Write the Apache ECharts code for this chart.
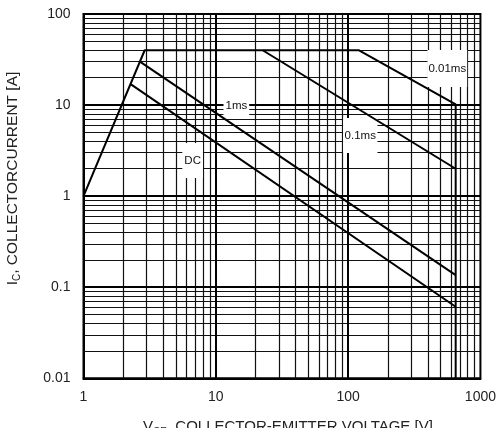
<!DOCTYPE html>
<html>
<head>
<meta charset="utf-8">
<script src="https://cdn.jsdelivr.net/npm/echarts@6/dist/echarts.min.js"></script>
<style>
  html, body { margin: 0; padding: 0; background: #fff; }
  #chart { width: 499px; height: 428px; }
</style>
</head>
<body>
<div id="chart"></div>
<script>
// Safe operating area: collector current vs collector-emitter voltage, log-log scales
const xTickLabels = ['1', '10', '100', '1000'];
const yTickLabels = ['0.01', '0.1', '1', '10', '100'];

// Limit curves as [V_CE (V), I_C (A)]
const curve001ms = [[1, 1], [2.9, 40], [120, 40], [650, 10.2], [650, 0.01]];
const curve01ms = [[22.6, 40], [650, 2.0]];
const curve1ms = [[2.67, 30], [650, 0.136]];
const curveDC = [[2.27, 17], [650, 0.061]];

// Curve captions and where they sit
const captionNames = ['0.01ms', '0.1ms', '1ms', 'DC'];
const captionPos = [[562, 25.2], [123.5, 4.63], [14.3, 9.77], [6.68, 2.46]];
const captionPad = [[12, 1], [11, 1.5], [2.5, 2], [11, 2]];

// Log grid: decade lines and 2..9 subdivisions
const xDecades = [1, 10, 100, 1000];
const yDecades = [0.01, 0.1, 1, 10, 100];
const subSteps = [2, 3, 4, 5, 6, 7, 8, 9];

function minorValues(decades) {
  const out = [];
  for (let i = 0; i < decades.length - 1; i++) {
    subSteps.forEach(k => out.push(+(decades[i] * k).toPrecision(6)));
  }
  return out;
}

const xMinor = minorValues(xDecades);
const yMinor = minorValues(yDecades);

const chart = echarts.init(document.getElementById('chart'), null, { renderer: 'canvas' });

const font = '"Liberation Sans", Arial, sans-serif';

function gridSeries(xs, ys, width, color) {
  return {
    type: 'line',
    data: [],
    silent: true,
    z: 1,
    animation: false,
    markLine: {
      z: 1,
      silent: true,
      animation: false,
      symbol: ['none', 'none'],
      label: { show: false },
      lineStyle: { type: 'solid', color: color, width: width },
      emphasis: { disabled: true },
      data: xs.map(v => ({ xAxis: v })).concat(ys.map(v => ({ yAxis: v })))
    }
  };
}

function curveSeries(name, data) {
  return {
    name: name,
    type: 'line',
    data: data,
    symbol: 'none',
    z: 8,
    animation: false,
    silent: true,
    lineStyle: { color: '#000', width: 2 }
  };
}

chart.setOption({
  animation: false,
  backgroundColor: '#fff',
  grid: {
    left: 83.5, right: 17, top: 14, bottom: 49.7,
    show: true, borderColor: '#000', borderWidth: 2
  },
  xAxis: {
    type: 'log', logBase: 10, min: 1, max: 1000, splitNumber: 3,
    axisLine: { show: true, lineStyle: { color: '#000', width: 2 } },
    axisTick: { show: false },
    splitLine: { show: false },
    axisLabel: {
      margin: 12, color: '#222', fontSize: 14, fontFamily: font,
      formatter: v => {
        const i = xDecades.findIndex(d => Math.abs(d - v) / d < 1e-6);
        return i >= 0 ? xTickLabels[i] : '';
      }
    }
  },
  yAxis: {
    type: 'log', logBase: 10, min: 0.01, max: 100, splitNumber: 4,
    axisLine: { show: true, lineStyle: { color: '#000', width: 2 } },
    axisTick: { show: false },
    splitLine: { show: false },
    axisLabel: {
      margin: 13, color: '#222', fontSize: 14, fontFamily: font,
      formatter: v => {
        const i = yDecades.findIndex(d => Math.abs(d - v) / d < 1e-6);
        return i >= 0 ? yTickLabels[i] : '';
      }
    }
  },
  graphic: [
    {
      type: 'text',
      x: 288, y: 417,
      style: {
        text: '{a|V}{b|CE}{a|, COLLECTOR-EMITTER VOLTAGE [V]}',
        align: 'center', verticalAlign: 'top',
        rich: {
          a: { fontSize: 15, fontFamily: font, fill: '#222', lineHeight: 20, verticalAlign: 'middle' },
          b: { fontSize: 10, fontFamily: font, fill: '#222', lineHeight: 10, verticalAlign: 'bottom' }
        }
      }
    },
    {
      type: 'text',
      x: 12.5, y: 178.5,
      rotation: Math.PI / 2,
      style: {
        text: '{a|I}{b|C}{a|, COLLECTORCURRENT [A]}',
        align: 'center', verticalAlign: 'middle',
        rich: {
          a: { fontSize: 15.5, fontFamily: font, fill: '#222', lineHeight: 20, verticalAlign: 'middle' },
          b: { fontSize: 10, fontFamily: font, fill: '#222', lineHeight: 10, verticalAlign: 'bottom' }
        }
      }
    }
  ],
  series: [
    gridSeries(xMinor, yMinor, 1.2, '#111'),
    gridSeries(xDecades.slice(1, -1), yDecades.slice(1, -1), 2, '#000'),
    {
      type: 'scatter',
      z: 5,
      silent: true,
      animation: false,
      symbolSize: 1,
      itemStyle: { color: '#fff', opacity: 1 },
      data: captionNames.map((n, i) => ({
        name: n,
        value: captionPos[i],
        label: { padding: captionPad[i], backgroundColor: '#fff' }
      })),
      label: {
        show: true, position: 'inside', formatter: '{b}', opacity: 1,
        color: '#111', fontSize: 11.5, fontFamily: font, lineHeight: 13,
        backgroundColor: '#fff'
      }
    },
    curveSeries('0.01ms', curve001ms),
    curveSeries('0.1ms', curve01ms),
    curveSeries('1ms', curve1ms),
    curveSeries('DC', curveDC)
  ]
});
</script>
</body>
</html>
